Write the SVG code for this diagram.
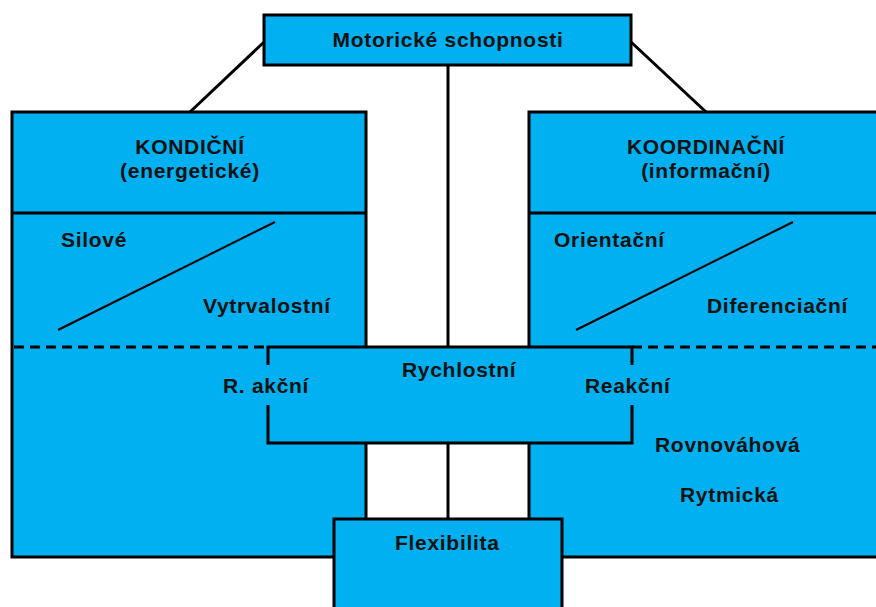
<svg xmlns="http://www.w3.org/2000/svg" width="876" height="607" viewBox="0 0 876 607">
<style>
.box{fill:#00B0F0;stroke:#000;stroke-width:3}
.fill{fill:#00B0F0;stroke:none}
.ln{stroke:#000;stroke-width:3;fill:none}
.thin{stroke:#000;stroke-width:2;fill:none}
.dash{stroke:#000;stroke-width:3;stroke-dasharray:10 6;fill:none}
text{font-family:"Liberation Sans",Arial,sans-serif;font-weight:bold;font-size:21px;fill:#111;letter-spacing:0.7px}
.mid{text-anchor:middle}
</style>
<rect width="876" height="607" fill="#fff"/>
<g id="connectors">
<line class="ln" x1="264" y1="42" x2="190" y2="112"/>
<line class="ln" x1="631" y1="42" x2="706" y2="112"/>
<line class="ln" x1="448" y1="65" x2="448" y2="347"/>
<line class="ln" x1="448" y1="443" x2="448" y2="520"/>
</g>
<g id="kondicni">
<rect class="box" x="12" y="112" width="354" height="445"/>
<line class="ln" x1="12" y1="213" x2="366" y2="213"/>
<line class="dash" x1="14" y1="347" x2="268" y2="347"/>
<line class="thin" x1="58" y1="330" x2="275" y2="222"/>
<text class="mid" x="190" y="154">KONDIČNÍ</text>
<text class="mid" x="190" y="178">(energetické)</text>
<text x="61" y="247">Silové</text>
<text x="203" y="313">Vytrvalostní</text>
</g>
<g id="koordinacni">
<rect class="box" x="529" y="112" width="360" height="445"/>
<line class="ln" x1="529" y1="213" x2="876" y2="213"/>
<line class="dash" x1="632" y1="347" x2="876" y2="347"/>
<line class="thin" x1="576" y1="330" x2="793" y2="222"/>
<text class="mid" x="706" y="154">KOORDINAČNÍ</text>
<text class="mid" x="706" y="178">(informační)</text>
<text x="554" y="247">Orientační</text>
<text x="707" y="313">Diferenciační</text>
<text x="655" y="452">Rovnováhová</text>
<text x="680" y="502">Rytmická</text>
</g>
<g id="motoricke">
<rect class="box" x="264" y="15" width="367" height="50"/>
<text class="mid" x="448" y="47">Motorické schopnosti</text>
</g>
<g id="rychlostni">
<rect class="fill" x="268" y="347" width="364" height="96"/>
<path class="ln" d="M268 365V347H632V365M268 405V443H632V405"/>
<text x="402" y="377">Rychlostní</text>
<text x="223" y="393">R. akční</text>
<text x="585" y="393">Reakční</text>
</g>
<g id="flexibilita">
<rect class="box" x="334" y="519" width="228" height="100"/>
<text x="395" y="550">Flexibilita</text>
</g>
</svg>
